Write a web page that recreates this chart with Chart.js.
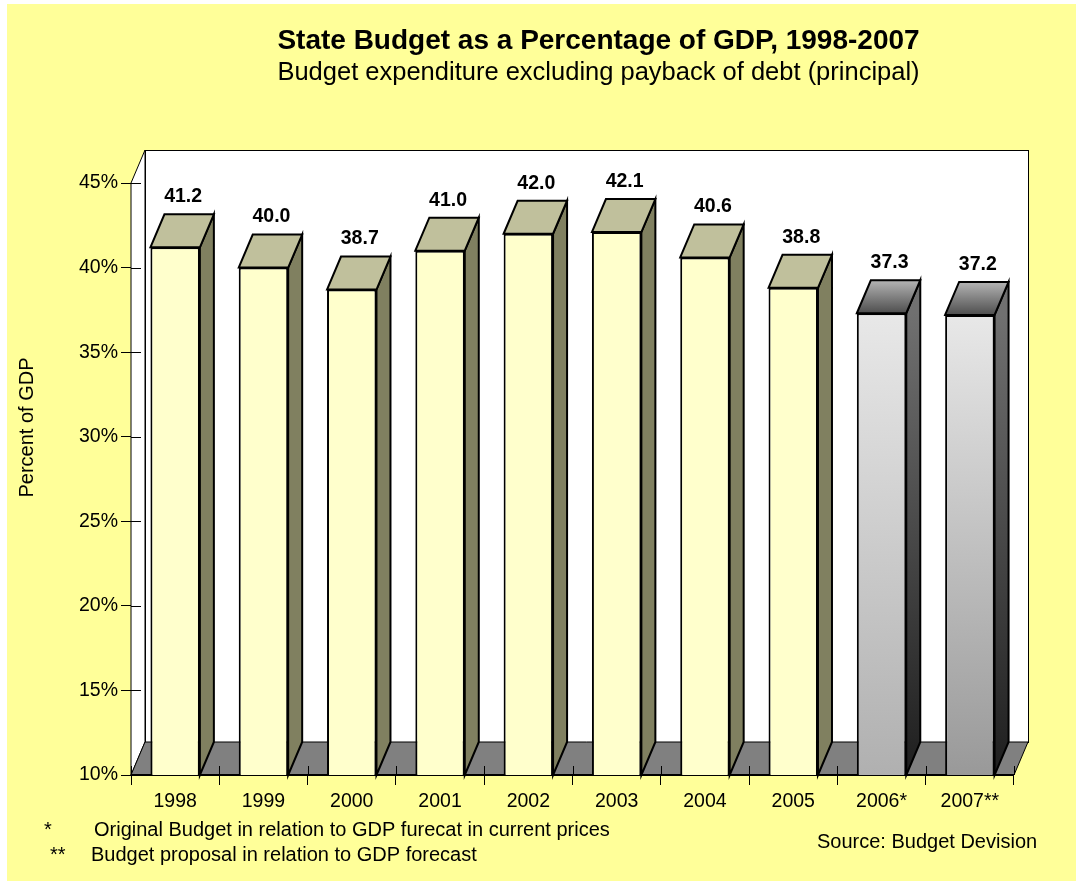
<!DOCTYPE html>
<html>
<head>
<meta charset="utf-8">
<title>State Budget as a Percentage of GDP, 1998-2007</title>
<script src="https://cdn.jsdelivr.net/npm/chart.js@4.4.1/dist/chart.umd.min.js"></script>
<style>
  html, body { margin: 0; padding: 0; background: #ffffff; }
  canvas { display: block; }
</style>
</head>
<body>
<canvas id="budgetChart" width="1076" height="881"></canvas>
<script>
// ---- data ----
const years = ['1998', '1999', '2000', '2001', '2002', '2003', '2004', '2005', '2006*', '2007**'];
const budgetShare = [41.2, 40.0, 38.7, 41.0, 42.0, 42.1, 40.6, 38.8, 37.3, 37.2];
const percentTicks = [10, 15, 20, 25, 30, 35, 40, 45];

// ---- text ----
const titleText = 'State Budget as a Percentage of GDP, 1998-2007';
const subtitleText = 'Budget expenditure excluding payback of debt (principal)';
const axisTitleText = 'Percent of GDP';
const footnoteMarks = ['*', '**'];
const footnoteTexts = [
  'Original Budget in relation to GDP furecat in current prices',
  'Budget proposal in relation to GDP forecast'
];
const sourceText = 'Source: Budget Devision';

// ---- look ----
const FONT = "'Liberation Sans', Arial, sans-serif";
const DEPTH_X = 14;     // receding offset of the 3D box
const DEPTH_Y = -33;
const isForecast = i => years[i].includes('*');
const actualColors = { front: '#FFFFCC', top: '#C0C09C', side: '#808060' };
const forecastFrontEnd = ['#B0B0B0', '#999999'];

function forecastRank(i) {
  let r = 0;
  for (let k = 0; k < i; k++) if (isForecast(k)) r++;
  return r;
}

function frontColor(c) {
  const i = c.dataIndex;
  if (!isForecast(i)) return actualColors.front;
  const chart = c.chart;
  const area = chart.chartArea;
  if (!area || !chart.scales.y) return '#CCCCCC';
  const yTop = chart.scales.y.getPixelForValue(budgetShare[i]);
  const g = chart.ctx.createLinearGradient(0, yTop, 0, area.bottom);
  g.addColorStop(0, '#E8E8E8');
  g.addColorStop(1, forecastFrontEnd[forecastRank(i)] || '#999999');
  return g;
}

// Background, walls, floor and the receding faces of each bar
const boxPlugin = {
  id: 'box3d',
  beforeDraw(chart) {
    const { ctx, width, height } = chart;
    ctx.save();
    ctx.fillStyle = '#ffffff';
    ctx.fillRect(0, 0, width, height);
    ctx.fillStyle = '#FFFF99';
    ctx.fillRect(7, 4, width - 7, height - 4);
    ctx.restore();
  },
  beforeDatasetsDraw(chart) {
    const { ctx, chartArea: { left, right, top, bottom } } = chart;
    ctx.save();
    ctx.lineWidth = 1;
    ctx.strokeStyle = '#000000';
    // back wall
    ctx.fillStyle = '#ffffff';
    ctx.fillRect(left + DEPTH_X, top + DEPTH_Y, right - left, bottom - top);
    ctx.strokeRect(left + DEPTH_X + 0.5, top + DEPTH_Y + 0.5, right - left, bottom - top);
    // side wall
    ctx.beginPath();
    ctx.moveTo(left, top);
    ctx.lineTo(left + DEPTH_X, top + DEPTH_Y);
    ctx.lineTo(left + DEPTH_X, bottom + DEPTH_Y);
    ctx.lineTo(left, bottom);
    ctx.closePath();
    ctx.fill();
    ctx.stroke();
    // floor
    ctx.beginPath();
    ctx.moveTo(left, bottom);
    ctx.lineTo(left + DEPTH_X, bottom + DEPTH_Y);
    ctx.lineTo(right + DEPTH_X, bottom + DEPTH_Y);
    ctx.lineTo(right, bottom);
    ctx.closePath();
    ctx.fillStyle = '#808080';
    ctx.fill();
    ctx.stroke();
    // inner halves of the tick marks
    const xs = chart.scales.x;
    const ys = chart.scales.y;
    ctx.beginPath();
    ys.ticks.forEach(t => {
      const py = Math.round(ys.getPixelForValue(t.value)) + 0.5;
      ctx.moveTo(left, py);
      ctx.lineTo(left + 10, py);
    });
    for (let k = 0; k <= years.length; k++) {
      const px = Math.round(xs.getPixelForValue(k - 0.5)) + 0.5;
      ctx.moveTo(px, bottom);
      ctx.lineTo(px, bottom - 9);
    }
    ctx.stroke();
    // front edge of the floor
    ctx.beginPath();
    ctx.lineWidth = 2;
    ctx.moveTo(left, bottom);
    ctx.lineTo(right, bottom);
    ctx.stroke();
    ctx.restore();
  },
  afterDatasetsDraw(chart) {
    const { ctx, chartArea } = chart;
    const meta = chart.getDatasetMeta(0);
    ctx.save();
    ctx.lineWidth = 2;
    ctx.strokeStyle = '#000000';
    ctx.lineJoin = 'miter';
    meta.data.forEach((bar, i) => {
      const p = bar.getProps(['x', 'y', 'base', 'width'], true);
      const x = p.x, y = p.y, width = p.width;
      // bars rise from the axis floor (the lowest tick), not from zero
      const base = Math.min(p.base, chartArea.bottom);
      const L = x - width / 2;
      const R = x + width / 2;
      let topFill, sideFill;
      if (isForecast(i)) {
        topFill = ctx.createLinearGradient(0, y + DEPTH_Y, 0, y);
        topFill.addColorStop(0, '#B4B4B4');
        topFill.addColorStop(1, '#4E4E4E');
        sideFill = ctx.createLinearGradient(0, y, 0, base);
        sideFill.addColorStop(0, '#707070');
        sideFill.addColorStop(1, '#1E1E1E');
      } else {
        topFill = actualColors.top;
        sideFill = actualColors.side;
      }
      // side face
      ctx.beginPath();
      ctx.moveTo(R, y);
      ctx.lineTo(R + DEPTH_X, y + DEPTH_Y);
      ctx.lineTo(R + DEPTH_X, base + DEPTH_Y);
      ctx.lineTo(R, base);
      ctx.closePath();
      ctx.fillStyle = sideFill;
      ctx.fill();
      ctx.stroke();
      // top face
      ctx.beginPath();
      ctx.moveTo(L, y);
      ctx.lineTo(L + DEPTH_X, y + DEPTH_Y);
      ctx.lineTo(R + DEPTH_X, y + DEPTH_Y);
      ctx.lineTo(R, y);
      ctx.closePath();
      ctx.fillStyle = topFill;
      ctx.fill();
      ctx.stroke();
      // value label
      ctx.fillStyle = '#000000';
      ctx.font = 'bold 19.5px ' + FONT;
      ctx.textAlign = 'center';
      ctx.textBaseline = 'middle';
      ctx.fillText(budgetShare[i].toFixed(1), x + 8, y + DEPTH_Y - 17.5);
    });
    ctx.restore();
  },
  afterDraw(chart) {
    const { ctx } = chart;
    ctx.save();
    ctx.fillStyle = '#000000';
    ctx.textBaseline = 'alphabetic';
    // titles
    ctx.textAlign = 'center';
    ctx.font = 'bold 28px ' + FONT;
    ctx.fillText(titleText, 598.5, 48.5);
    ctx.font = '25.5px ' + FONT;
    ctx.fillText(subtitleText, 598.5, 80);
    // axis title
    ctx.save();
    ctx.translate(33, 427.5);
    ctx.rotate(-Math.PI / 2);
    ctx.font = '20px ' + FONT;
    ctx.textAlign = 'center';
    ctx.fillText(axisTitleText, 0, 0);
    ctx.restore();
    // footnotes
    ctx.textAlign = 'left';
    ctx.font = '20px ' + FONT;
    ctx.fillText(footnoteMarks[0], 44, 836);
    ctx.fillText(footnoteTexts[0], 94, 836);
    ctx.fillText(footnoteMarks[1], 50, 860.5);
    ctx.fillText(footnoteTexts[1], 91, 860.5);
    ctx.fillText(sourceText, 817, 848);
    ctx.restore();
  }
};

new Chart(document.getElementById('budgetChart'), {
  type: 'bar',
  data: {
    labels: years,
    datasets: [{
      data: budgetShare,
      backgroundColor: frontColor,
      borderColor: '#000000',
      borderWidth: 2,
      borderSkipped: false,
      categoryPercentage: 1,
      barPercentage: 0.56
    }]
  },
  options: {
    responsive: false,
    animation: false,
    devicePixelRatio: 1,
    layout: { padding: { left: 0, top: 183, right: 62, bottom: 56 } },
    plugins: {
      legend: { display: false },
      title: { display: false },
      tooltip: { enabled: false }
    },
    scales: {
      x: {
        type: 'category',
        offset: true,
        grid: { offset: true, drawOnChartArea: false, drawTicks: true, tickLength: 10, color: '#000000', tickColor: '#000000', lineWidth: 1 },
        border: { display: false },
        ticks: { color: '#000000', font: { family: FONT, size: 19.5 }, padding: 5, maxRotation: 0, autoSkip: false },
        afterFit: s => { s.height = 50; }
      },
      y: {
        type: 'linear',
        min: percentTicks[0],
        max: percentTicks[percentTicks.length - 1],
        afterBuildTicks: s => { s.ticks = percentTicks.map(v => ({ value: v })); },
        grid: { drawOnChartArea: false, drawTicks: true, tickLength: 10, color: '#000000', tickColor: '#000000', lineWidth: 1 },
        border: { display: true, color: '#000000', width: 1 },
        ticks: { color: '#000000', font: { family: FONT, size: 19.5 }, padding: 3, callback: v => v + '%' },
        afterFit: s => { s.width = 131; }
      }
    }
  },
  plugins: [boxPlugin]
});
</script>
</body>
</html>
